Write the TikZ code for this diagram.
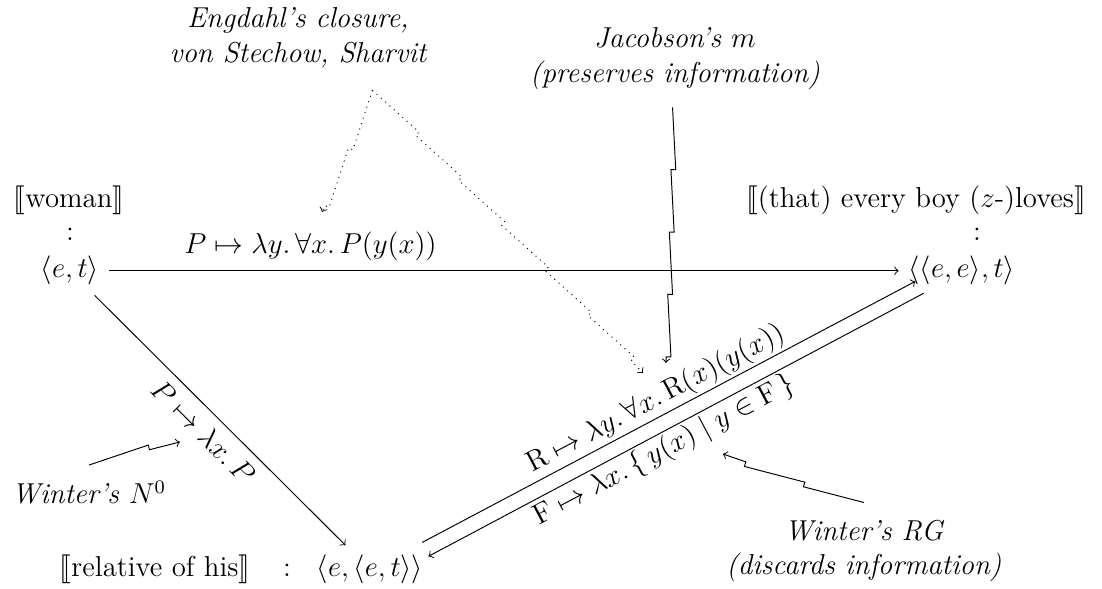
\documentclass[tikz,border=0pt,12pt]{standalone}
\usepackage{amsmath,amssymb}
\usepackage{stmaryrd}
\usetikzlibrary{decorations.pathmorphing}

\tikzset{
  type/.style={anchor=base},
  note/.style={font=\itshape, align=center},
  hint/.style={->, decorate, decoration={saw, segment length=26pt, amplitude=2pt}},
}

\begin{document}
\begin{tikzpicture}
    \useasboundingbox (0,0) rectangle (16.14,8.626);
    \node[type] (woman) at (1.010,5.594) {$\llbracket$woman$\rrbracket$};
    \node[type] (col1) at (1.025,5.111) {:};
    \node[type] (et) at (1.025,4.555) {$\langle e, t\rangle$};
    \node[type] (loves) at (13.415,5.594) {$\llbracket$(that) every boy ($z$-)loves$\rrbracket$};
    \node[type] (col2) at (14.308,5.111) {:};
    \node[type] (eet) at (14.088,4.555) {$\langle\langle e, e\rangle, t\rangle$};
    \node[type] (rel) at (2.270,0.176) {$\llbracket$relative of his$\rrbracket$};
    \node[type] (col3) at (4.203,0.176) {:};
    \node[type] (ret) at (5.419,0.176) {$\langle e, \langle e, t\rangle\rangle$};

    \draw[->] (et) -- node[pos=0.255, above] (plab) {$P \mapsto \lambda y.\,\forall x.\,P(y(x))$} (eet);
    \draw[->] (et) -- node[pos=0.49, below, sloped] (nlab) {$P \mapsto \lambda x.\,P$} (ret);
    \draw[->] ([xshift=-4.6pt,yshift=1.2pt]ret.north east) -- node[pos=0.49, above, sloped, inner sep=1pt] (rlab) {$\mathrm{R} \mapsto \lambda y.\,\forall x.\,\mathrm{R}(x)(y(x))$} ([xshift=7pt,yshift=5.8pt]eet.south west);
    \draw[<-] ([xshift=-2pt,yshift=-4.6pt]ret.north east) -- node[pos=0.46, below, sloped, inner sep=1pt] (flab) {$\mathrm{F} \mapsto \lambda x.\,\{\,y(x) \mid y \in \mathrm{F}\,\}$} ([xshift=10.4pt,yshift=0.8pt]eet.south west);

    \node[note] (engd) at (4.364,8.069) {Engdahl's closure,\\von Stechow, Sharvit};
    \node[note] (jac) at (9.885,7.762) {Jacobson's $m$\\(preserves information)};
    \node[note, anchor=base] (wn) at (1.303,1.245) {Winter's $N^0$};
    \node[note] (wrg) at (12.653,0.557) {Winter's RG\\(discards information)};

    \coordinate (toP) at (4.716,5.521);
    \coordinate (toR) at (9.417,3.163);
    \coordinate (toRm) at (9.754,3.310);
    \coordinate (toN) at (2.636,2.153);
    \coordinate (toF) at (10.588,1.977);

    \draw[hint, dotted] ([xshift=31pt,yshift=-5pt]engd.south) -- (toP);
    \draw[hint, dotted] ([xshift=31pt,yshift=-5pt]engd.south) -- (toR);
    \draw[hint] ([xshift=-1pt,yshift=-3pt]jac.south) -- (toRm);
    \draw[hint] ([yshift=2.5pt]wn.north) -- (toN);
    \draw[hint] ([yshift=3pt]wrg.north) -- (toF);
  \end{tikzpicture}
\end{document}
